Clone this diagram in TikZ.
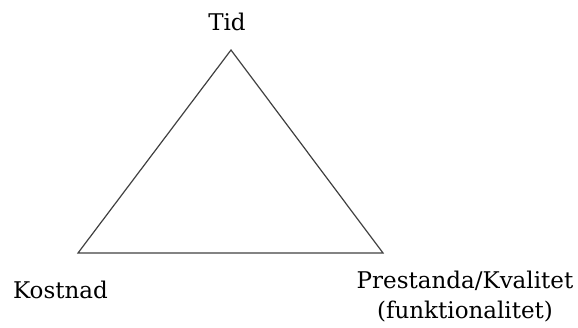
\documentclass[tikz,border=0pt]{standalone}
\usepackage{fontspec}
\setmainfont{DejaVu Serif}
\usetikzlibrary{positioning}

\begin{document}
\begin{tikzpicture}[
  x=1pt, y=-1pt,
  font=\fontsize{23}{30}\selectfont,
  edge/.style={draw=black!75, line width=1.2pt, line join=miter},
  lbl/.style={inner sep=0pt, anchor=base, align=center}
]
\useasboundingbox (0,0) rectangle (578,327);

% corners of the triangle
\coordinate (tid) at (231,50);
\coordinate (kostnad) at (78,253);
\coordinate (prestanda) at (383,253);

\draw[edge] (tid) -- (prestanda) -- (kostnad) -- cycle;

% labels
\node[lbl] (tidlbl) at (227,30) {Tid};
\node[lbl] (kostlbl) at (60.5,298) {Kostnad};
\node[lbl, anchor=north] (prestlbl) at (465,270.5) {Prestanda/Kvalitet\\(funktionalitet)};

\end{tikzpicture}
\end{document}
